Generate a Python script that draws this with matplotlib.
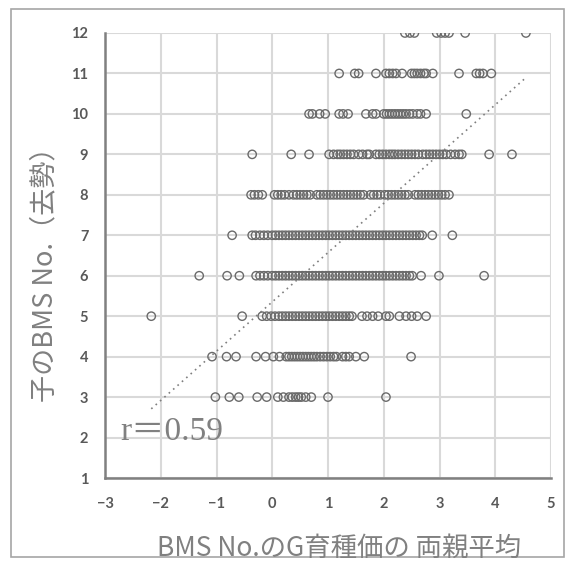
import numpy as np
import matplotlib.pyplot as plt
from matplotlib.patches import Rectangle

plt.rcParams['font.family'] = ['Lato', 'DejaVu Sans']

# parent-average G breeding value (BMS No.) for each offspring score
bms_levels = [3, 4, 5, 6, 7, 8, 9, 10, 11, 12]

parent_avg_3 = [-1.02, -0.77, -0.6, -0.27, -0.1, 0.1, 0.2, 0.3, 0.36, 0.42, 0.47,
                0.52, 0.6, 0.7, 1.0, 2.04]
parent_avg_4 = [-1.08, -0.82, -0.65, -0.29, -0.12, 0.02, 0.13, 0.25, 0.3, 0.35,
                0.4, 0.45, 0.5, 0.55, 0.6, 0.65, 0.7, 0.75, 0.8, 0.86, 0.92, 0.98,
                1.04, 1.1, 1.15, 1.26, 1.32, 1.38, 1.5, 1.65, 2.49]
parent_avg_5 = [-2.17, -0.54, -0.18, -0.1, -0.02, 0.05, 0.12, 0.18, 0.24, 0.3,
                0.36, 0.42, 0.48, 0.54, 0.6, 0.66, 0.72, 0.78, 0.84, 0.9, 0.96,
                1.02, 1.08, 1.14, 1.2, 1.26, 1.32, 1.38, 1.43, 1.61, 1.7, 1.8,
                1.9, 2.04, 2.1, 2.28, 2.4, 2.5, 2.6, 2.76]
parent_avg_6 = [-1.31, -0.81, -0.59, -0.29, -0.22, -0.15, -0.08, 0.0, 0.06, 0.12,
                0.18, 0.24, 0.3, 0.36, 0.42, 0.48, 0.54, 0.6, 0.66, 0.72, 0.78,
                0.84, 0.9, 0.96, 1.02, 1.08, 1.14, 1.2, 1.26, 1.32, 1.38, 1.44,
                1.5, 1.56, 1.62, 1.68, 1.74, 1.8, 1.86, 1.92, 1.98, 2.04, 2.1,
                2.16, 2.22, 2.28, 2.34, 2.4, 2.46, 2.51, 2.67, 2.99, 3.8]
parent_avg_7 = [-0.72, -0.36, -0.3, -0.22, -0.15, -0.08, 0.0, 0.06, 0.12, 0.18,
                0.24, 0.3, 0.36, 0.42, 0.48, 0.54, 0.6, 0.66, 0.72, 0.78, 0.84,
                0.9, 0.96, 1.02, 1.08, 1.14, 1.2, 1.26, 1.32, 1.38, 1.44, 1.5,
                1.56, 1.62, 1.68, 1.74, 1.8, 1.86, 1.92, 1.98, 2.04, 2.1, 2.16,
                2.22, 2.28, 2.34, 2.4, 2.46, 2.52, 2.58, 2.64, 2.69, 2.87, 3.23]
parent_avg_8 = [-0.38, -0.32, -0.25, -0.18, 0.04, 0.1, 0.16, 0.22, 0.3, 0.38,
                0.44, 0.5, 0.56, 0.62, 0.68, 0.8, 0.86, 0.92, 0.98, 1.04, 1.1,
                1.16, 1.22, 1.28, 1.34, 1.4, 1.46, 1.52, 1.58, 1.64, 1.76, 1.82,
                1.88, 1.94, 2.02, 2.08, 2.14, 2.2, 2.26, 2.32, 2.38, 2.44, 2.56,
                2.62, 2.68, 2.74, 2.8, 2.86, 2.92, 2.98, 3.04, 3.1, 3.17]
parent_avg_9 = [-0.36, 0.34, 0.66, 1.02, 1.1, 1.17, 1.22, 1.28, 1.34, 1.4, 1.46,
                1.55, 1.62, 1.7, 1.74, 1.86, 1.92, 1.98, 2.04, 2.1, 2.15, 2.2,
                2.26, 2.32, 2.38, 2.44, 2.5, 2.56, 2.62, 2.7, 2.76, 2.82, 2.88,
                2.94, 3.0, 3.06, 3.12, 3.2, 3.28, 3.35, 3.4, 3.89, 4.3]
parent_avg_10 = [0.66, 0.72, 0.85, 0.95, 1.2, 1.27, 1.36, 1.68, 1.8, 1.86, 2.0,
                 2.05, 2.1, 2.15, 2.2, 2.25, 2.3, 2.35, 2.4, 2.46, 2.52, 2.6,
                 2.66, 2.76, 3.48]
parent_avg_11 = [1.2, 1.48, 1.55, 1.86, 2.04, 2.1, 2.16, 2.22, 2.33, 2.5, 2.55,
                 2.6, 2.66, 2.72, 2.76, 2.88, 3.35, 3.66, 3.72, 3.78, 3.93]
parent_avg_12 = [2.38, 2.47, 2.55, 2.95, 3.03, 3.1, 3.17, 3.46, 4.55]

# linear trend (endpoints) and correlation
trend_x = [-2.17, 4.52]
trend_y = [2.71, 10.86]
r_value = 0.59

x_ticks = [-3, -2, -1, 0, 1, 2, 3, 4, 5]
y_ticks = [1, 2, 3, 4, 5, 6, 7, 8, 9, 10, 11, 12]

rows = [parent_avg_3, parent_avg_4, parent_avg_5, parent_avg_6, parent_avg_7,
        parent_avg_8, parent_avg_9, parent_avg_10, parent_avg_11, parent_avg_12]
xs = np.concatenate([np.array(r) for r in rows])
ys = np.concatenate([np.full(len(r), lvl) for r, lvl in zip(rows, bms_levels)])

fig = plt.figure(figsize=(5.74, 5.69), dpi=100)
ax = fig.add_axes([105 / 574, 91 / 569, 446 / 574, 445 / 569])

ax.scatter(xs, ys, s=36, facecolors='none', edgecolors='#6a6a6a',
           linewidths=1.0, zorder=3)
ax.plot(trend_x, trend_y, linestyle=(0, (1, 2.5)), color='#7f7f7f',
        linewidth=1.2, zorder=4)

ax.set_xlim(-3, 5)
ax.set_ylim(1, 12)
ax.set_xticks(x_ticks)
ax.set_yticks(y_ticks)
ax.grid(True, color='#d9d9d9', linewidth=1.5, zorder=0)
ax.set_axisbelow(True)
for side in ['top', 'right']:
    ax.spines[side].set_visible(False)
for side in ['left', 'bottom']:
    ax.spines[side].set_color('#808080')
    ax.spines[side].set_linewidth(1.8)
ax.tick_params(length=0, pad=14, labelsize=10.5, labelcolor='#595959')
ax.tick_params(axis='y', pad=12)
for lbl in ax.get_xticklabels() + ax.get_yticklabels():
    lbl.set_fontweight('bold')

ax.text(-2.72, 2.15, f'r＝{r_value:.2f}', fontsize=24, color='#808080',
        family=['Liberation Serif', 'Noto Sans CJK JP'], va='center', zorder=5)

fig.text(0.59, 0.037, 'BMS No.のG育種価の 両親平均', fontsize=19, color='#808080',
         family=['Noto Sans CJK JP', 'DejaVu Sans'], ha='center', va='center')
fig.text(0.078, 0.529, '子のBMS No.（去勢）', fontsize=19.5, color='#808080',
         family=['Noto Sans CJK JP', 'DejaVu Sans'], rotation=90,
         ha='center', va='center')

# outer chart border
fig.patches.append(Rectangle((11 / 574, 12 / 569), 553 / 574, 548 / 569,
                             transform=fig.transFigure, fill=False,
                             edgecolor='#a6a6a6', linewidth=1.2))

fig.savefig('out.png', dpi=100)
